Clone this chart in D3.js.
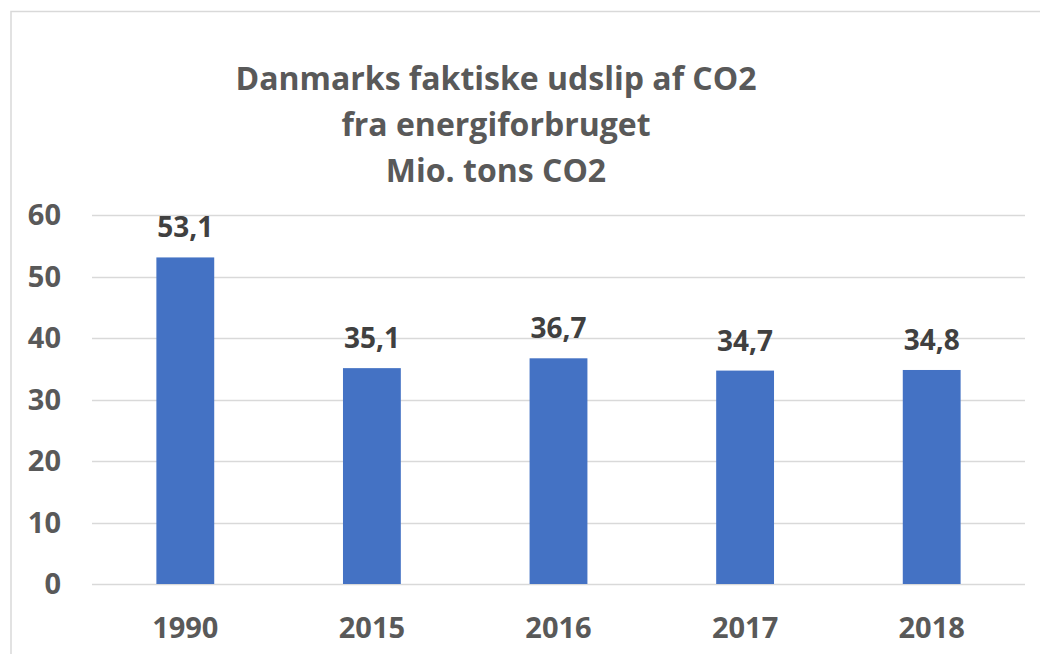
<!DOCTYPE html>
<html>
<head>
<meta charset="utf-8">
<script src="https://cdn.jsdelivr.net/npm/d3@7"></script>
<style>
	body { margin: 0; background: #fff; }
	text { font-family: "Open Sans", sans-serif; font-weight: bold; }
</style>
</head>
<body>
<div id="canvas"></div>
<script>
var years = ["1990", "2015", "2016", "2017", "2018"];
var emissions = [53.1, 35.1, 36.7, 34.7, 34.8];
var yTicks = [0, 10, 20, 30, 40, 50, 60];
var titleLines = ["Danmarks faktiske udslip af CO2", "fra energiforbruget", "Mio. tons CO2"];

var w = 1040, h = 654;
var svg = d3.select("#canvas")
	.append("svg")
	.attr("width", w)
	.attr("height", h);

// chart frame
svg.append("rect")
	.attr("x", 11)
	.attr("y", 11.5)
	.attr("width", w + 20)
	.attr("height", h + 20)
	.attr("fill", "white")
	.attr("stroke", "#d9d9d9")
	.attr("stroke-width", 1.5);

var xScale = d3.scaleBand()
	.domain(years)
	.range([92, 1025])
	.paddingInner(0.69)
	.paddingOuter(0.345);

var yScale = d3.scaleLinear()
	.domain([0, 60])
	.range([584, 215]);

svg.selectAll(".grid")
	.data(yTicks)
	.enter()
	.append("line")
	.attr("class", "grid")
	.attr("x1", 92)
	.attr("x2", 1025)
	.attr("y1", function(d){ return Math.round(yScale(d)) + 0.5; })
	.attr("y2", function(d){ return Math.round(yScale(d)) + 0.5; })
	.attr("stroke", "#d9d9d9")
	.attr("stroke-width", 1.5);

svg.selectAll(".ytick")
	.data(yTicks)
	.enter()
	.append("text")
	.attr("class", "ytick")
	.attr("x", 61)
	.attr("y", function(d){ return yScale(d); })
	.attr("dy", "0.36em")
	.attr("text-anchor", "end")
	.attr("font-size", 29)
	.attr("fill", "#595959")
	.text(function(d){ return d; });

svg.selectAll(".bar")
	.data(emissions)
	.enter()
	.append("rect")
	.attr("class", "bar")
	.attr("x", function(d, i){ return xScale(years[i]); })
	.attr("width", xScale.bandwidth())
	.attr("y", function(d){ return yScale(d); })
	.attr("height", function(d){ return yScale(0) - yScale(d); })
	.attr("fill", "#4472c4");

svg.selectAll(".val")
	.data(emissions)
	.enter()
	.append("text")
	.attr("class", "val")
	.attr("x", function(d, i){ return xScale(years[i]) + xScale.bandwidth() / 2; })
	.attr("y", function(d){ return yScale(d) - 20; })
	.attr("text-anchor", "middle")
	.attr("font-size", 28)
	.attr("fill", "#404040")
	.text(function(d){ return d.toFixed(1).replace(".", ","); });

svg.selectAll(".xlab")
	.data(years)
	.enter()
	.append("text")
	.attr("class", "xlab")
	.attr("x", function(d){ return xScale(d) + xScale.bandwidth() / 2; })
	.attr("y", 638)
	.attr("text-anchor", "middle")
	.attr("font-size", 29)
	.attr("fill", "#595959")
	.text(function(d){ return d; });

svg.selectAll(".title")
	.data(titleLines)
	.enter()
	.append("text")
	.attr("class", "title")
	.attr("x", 496)
	.attr("y", function(d, i){ return 90 + i * 46; })
	.attr("text-anchor", "middle")
	.attr("font-size", 32)
	.attr("fill", "#595959")
	.text(function(d){ return d; });
</script>
</body>
</html>
